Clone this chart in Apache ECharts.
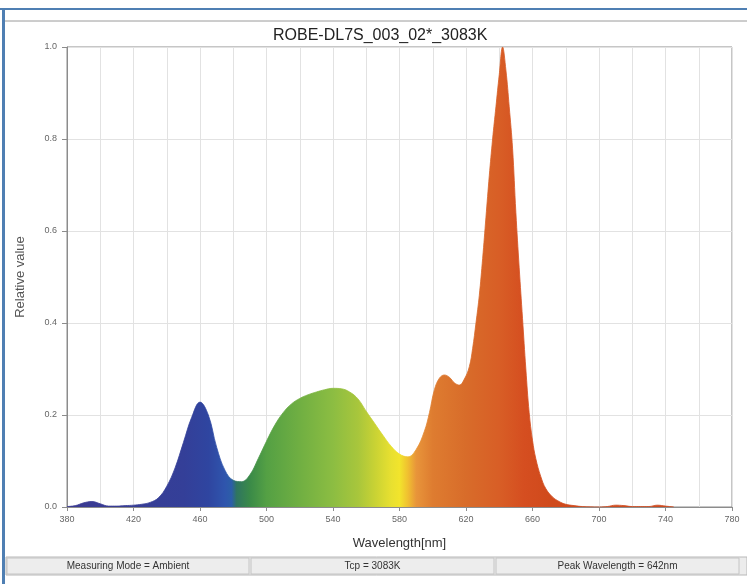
<!DOCTYPE html>
<html>
<head>
<meta charset="utf-8">
<script src="https://cdn.jsdelivr.net/npm/echarts@6/dist/echarts.min.js"></script>
<style>
html,body{margin:0;padding:0;background:#fff;}
#chart{width:747px;height:584px;}
</style>
</head>
<body>
<div id="chart"></div>
<script>
var chartTitle = 'ROBE-DL7S_003_02*_3083K';
var xAxisName = 'Wavelength[nm]';
var yAxisName = 'Relative value';
var statusTexts = ['Measuring Mode = Ambient', 'Tcp = 3083K', 'Peak Wavelength = 642nm'];

var wavelengths = [380,385,390,395,400,405,410,415,420,425,430,435,440,445,450,455,460,465,470,475,480,485,490,495,500,505,510,515,520,525,530,535,540,545,550,555,560,565,570,575,580,585,590,595,598,601,604,607,610,613,616,619,622,624,626,628,630,632,634,636,638,640,642,644,646,648,650,652,654,656,658,660,662,665,668,672,676,680,685,690,700,705,710,715,720,725,730,735,740,745];
var relValues = [0.001,0.003,0.009,0.012,0.007,0.002,0.002,0.003,0.004,0.006,0.010,0.020,0.045,0.085,0.140,0.195,0.228,0.200,0.130,0.080,0.058,0.055,0.070,0.105,0.143,0.178,0.205,0.224,0.236,0.244,0.250,0.255,0.258,0.257,0.250,0.235,0.208,0.182,0.156,0.132,0.115,0.109,0.125,0.165,0.205,0.255,0.280,0.287,0.282,0.270,0.265,0.278,0.305,0.345,0.400,0.460,0.540,0.630,0.720,0.800,0.870,0.940,1.000,0.950,0.870,0.780,0.640,0.520,0.410,0.300,0.205,0.145,0.105,0.066,0.040,0.022,0.012,0.006,0.003,0.001,0.000,0.001,0.004,0.003,0.001,0.001,0.001,0.004,0.002,0.000];

// spectral colour stops: [wavelength, colour]
var colorWavelengths = [380,450,465,475,479,482,490,500,520,540,555,565,575,580,585,590,600,620,640,655,670,745];
var colorValues = ['#3b3a92','#343f98','#2f45a0','#2f55ad','#2c5ea8','#2f7560','#3a8a48','#54a044','#70af42','#8cbd42','#a8c63c','#c8d234','#e8e030','#f2e42c','#f0c030','#e8953a','#de7c30','#d86c2a','#d85e26','#d54e20','#d04a1c','#cc4a20'];

var seriesData = wavelengths.map(function (w, i) { return [w, relValues[i]]; });
var wMin = wavelengths[0], wMax = wavelengths[wavelengths.length - 1];
var stops = colorWavelengths.map(function (w, i) {
  return { offset: (w - wMin) / (wMax - wMin), color: colorValues[i] };
});
function grad() { return new echarts.graphic.LinearGradient(0, 0, 1, 0, stops); }

var chart = echarts.init(document.getElementById('chart'), null, { renderer: 'canvas' });

var cellEdges = [6, 250, 495, 740];
var statusGraphics = [];
statusGraphics.push({ type: 'rect', shape: { x: 6, y: 557, width: 741, height: 18 }, style: { fill: '#ececec', stroke: '#b8b8b8', lineWidth: 1 }, silent: true });
for (var i = 0; i < 3; i++) {
  statusGraphics.push({ type: 'rect', shape: { x: cellEdges[i] + 1, y: 558, width: cellEdges[i + 1] - cellEdges[i] - 2, height: 16 }, style: { fill: '#ededed', stroke: '#c4c4c4', lineWidth: 1 }, silent: true });
  statusGraphics.push({ type: 'text', x: (cellEdges[i] + cellEdges[i + 1]) / 2, y: 566, style: { text: statusTexts[i], fill: '#333', fontSize: 10, fontFamily: 'Liberation Sans Narrow, Arial Narrow, Liberation Sans, sans-serif', align: 'center', verticalAlign: 'middle' }, silent: true });
}

var option = {
  animation: false,
  backgroundColor: '#fff',
  title: {
    text: chartTitle,
    left: 268,
    top: 23,
    textStyle: { fontSize: 16, fontWeight: 'normal', color: '#222', fontFamily: 'Liberation Sans, Arial, sans-serif' }
  },
  grid: { left: 67, right: 15, top: 47, bottom: 77, show: true, borderColor: '#8c8c8c', borderWidth: 1, backgroundColor: 'transparent' },
  xAxis: {
    type: 'value', min: 380, max: 780, interval: 40,
    name: xAxisName, nameLocation: 'middle', nameGap: 30,
    nameTextStyle: { fontSize: 13, color: '#333', fontFamily: 'Liberation Sans, Arial, sans-serif' },
    axisLine: { show: true, lineStyle: { color: '#8c8c8c' } },
    axisTick: { show: true, length: 4, lineStyle: { color: '#8c8c8c' } },
    axisLabel: { fontSize: 9, color: '#666', margin: 8, fontFamily: 'Liberation Sans, Arial, sans-serif' },
    splitLine: { show: true, lineStyle: { color: '#e2e2e2' } },
    minorTick: { show: false, splitNumber: 2 },
    minorSplitLine: { show: true, lineStyle: { color: '#e2e2e2' } }
  },
  yAxis: {
    type: 'value', min: 0, max: 1, interval: 0.2,
    name: yAxisName, nameLocation: 'middle', nameGap: 40, nameRotate: 90,
    nameTextStyle: { fontSize: 13, color: '#555', fontFamily: 'Liberation Sans, Arial, sans-serif' },
    axisLine: { show: true, lineStyle: { color: '#8c8c8c' } },
    axisTick: { show: true, length: 5, lineStyle: { color: '#8c8c8c' } },
    axisLabel: { fontSize: 9, color: '#666', margin: 10, formatter: function (v) { return v.toFixed(1); }, fontFamily: 'Liberation Sans, Arial, sans-serif' },
    splitLine: { show: true, lineStyle: { color: '#e2e2e2' } }
  },
  series: [{
    type: 'line',
    data: seriesData,
    showSymbol: false,
    smooth: 0.4,
    lineStyle: { width: 0.8, color: grad() },
    areaStyle: { color: grad(), opacity: 1 },
    z: 3
  }],
  graphic: [
    { type: 'rect', shape: { x: 0, y: 8, width: 747, height: 2 }, style: { fill: '#4f7fb3' }, silent: true },
    { type: 'rect', shape: { x: 2, y: 8, width: 3, height: 576 }, style: { fill: '#4f7fb3' }, silent: true },
    { type: 'line', shape: { x1: 5, y1: 21, x2: 747, y2: 21 }, style: { stroke: '#9a9a9a', lineWidth: 1 }, silent: true }
  ].concat(statusGraphics)
};
chart.setOption(option);
</script>
</body>
</html>
